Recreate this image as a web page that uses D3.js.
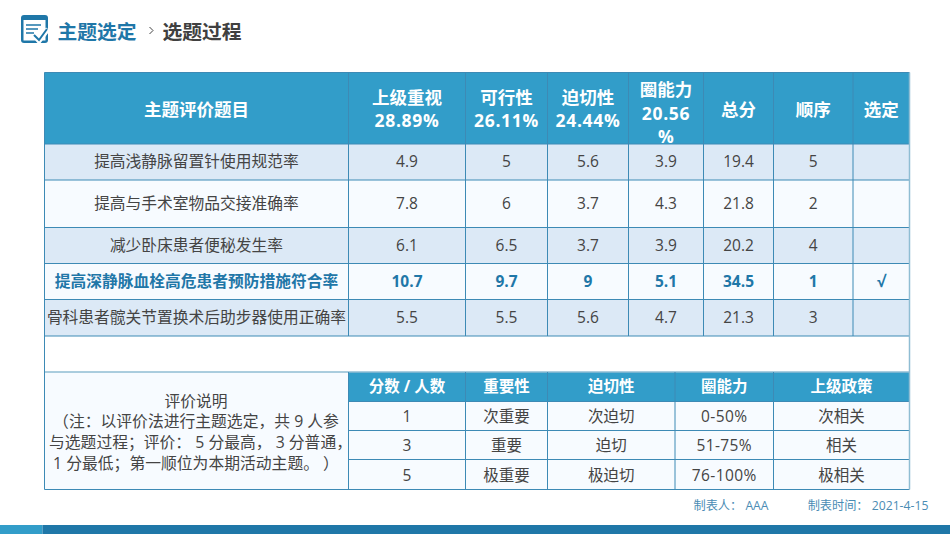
<!DOCTYPE html>
<html>
<head>
<meta charset="utf-8">
<script src="https://cdn.jsdelivr.net/npm/d3@7"></script>
<style>
html, body { margin: 0; padding: 0; background: #fff; overflow: hidden; }
text { font-family: "Open Sans", "Noto Sans CJK SC", sans-serif; }
</style>
</head>
<body>
<div id="chart"></div>
<script>
// Table contents
const headerLabels = [['主题评价题目'], ['上级重视', '28.89%'], ['可行性', '26.11%'], ['迫切性', '24.44%'], ['圈能力', '20.56', '%'], ['总分'], ['顺序'], ['选定']];
const topics = ['提高浅静脉留置针使用规范率', '提高与手术室物品交接准确率', '减少卧床患者便秘发生率', '提高深静脉血栓高危患者预防措施符合率', '骨科患者髋关节置换术后助步器使用正确率'];
const leaderScores = ['4.9', '7.8', '6.1', '10.7', '5.5'];
const feasibilityScores = ['5', '6', '6.5', '9.7', '5.5'];
const urgencyScores = ['5.6', '3.7', '3.7', '9', '5.6'];
const abilityScores = ['3.9', '4.3', '3.9', '5.1', '4.7'];
const totalScores = ['19.4', '21.8', '20.2', '34.5', '21.3'];
const ranks = ['5', '2', '4', '1', '3'];
const chosen = ['', '', '', '√', ''];
const noteLines = ['评价说明', '（注：以评价法进行主题选定，共 9 人参', '与选题过程；评价： 5 分最高， 3 分普通，', '1 分最低；第一顺位为本期活动主题。 ）'];
const legendHeader = ['分数 / 人数', '重要性', '迫切性', '圈能力', '上级政策'];
const legendScores = ['1', '3', '5'];
const legendImportance = ['次重要', '重要', '极重要'];
const legendUrgency = ['次迫切', '迫切', '极迫切'];
const legendAbility = ['0-50%', '51-75%', '76-100%'];
const legendPolicy = ['次相关', '相关', '极相关'];

const width = 950;
const height = 535;
const blue = '#329dc9';
const dark = '#1f77a8';
const line = '#3d8ab5';
const band = '#dce9f6';
const pale = '#f7fbff';
const ink = '#444444';

// Column and row edges of the two tables
const colEdges = [44.5, 348.5, 465.5, 547.5, 628.5, 703.5, 773.5, 853, 909.5];
const rowEdges = [144, 180, 227.5, 263.5, 299.5, 336];
const lowColEdges = [348.5, 465.5, 547.5, 675, 773.5, 909.5];
const lowRowEdges = [401.5, 430.5, 459.5, 489.5];
const tableTop = 72.5;
const lowTop = 372;

const svg = d3.select('#chart').append('svg')
    .attr('width', width)
    .attr('height', height)
    .style('display', 'block');

function label(g, x, y, str, size, color, weight) {
    return g.append('text')
        .attr('x', x)
        .attr('y', y)
        .attr('text-anchor', 'middle')
        .attr('dominant-baseline', 'central')
        .attr('font-size', size)
        .attr('font-weight', weight || 400)
        .attr('fill', color)
        .text(str);
}

// Page heading with the icon
const icon = svg.append('g').attr('transform', 'translate(21,15)');
icon.append('rect').attr('width', 27).attr('height', 28).attr('rx', 3).attr('fill', dark);
icon.append('rect').attr('x', 2.5).attr('y', 5).attr('width', 22).attr('height', 20.5).attr('fill', '#fff');
icon.append('path').attr('d', 'M5 10H20M5 14H17M5 18H13').attr('stroke', dark).attr('stroke-width', 1.6).attr('fill', 'none');
icon.append('path').attr('d', 'M13 20L18 26L27 14').attr('stroke', '#fff').attr('stroke-width', 5).attr('fill', 'none');
icon.append('path').attr('d', 'M13 20L18 25L26 14').attr('stroke', dark).attr('stroke-width', 2).attr('fill', 'none');
label(svg, 97, 31, '主题选定', 19.8, dark, 700);
svg.append('path').attr('d', 'M149.5 27L153 30.5L149.5 34').attr('stroke', '#444').attr('fill', 'none');
label(svg, 202, 31, '选题过程', 19.8, '#404040', 700);

// Upper table header
svg.append('rect').attr('x', colEdges[0]).attr('y', tableTop)
    .attr('width', colEdges[8] - colEdges[0]).attr('height', rowEdges[0] - tableTop)
    .attr('fill', blue);
const columns = [topics, leaderScores, feasibilityScores, urgencyScores, abilityScores, totalScores, ranks, chosen];
const headG = svg.append('g');
headerLabels.forEach((lines, c) => {
    const cx = (colEdges[c] + colEdges[c + 1]) / 2;
    const lineGap = 23.5;
    const midY = lines.length > 2 ? 112.5 : 108.5;
    lines.forEach((str, i) => {
        label(headG, cx, midY + (i - (lines.length - 1) / 2) * lineGap, str, 17.5, '#fff', 700)
            .attr('letter-spacing', /\d/.test(str) ? 0.7 : 0);
    });
});

// Upper table rows
const rowsG = svg.append('g');
rowsG.selectAll('rect')
    .data(topics)
    .enter()
    .append('rect')
    .attr('x', colEdges[0])
    .attr('y', (d, i) => rowEdges[i])
    .attr('width', colEdges[8] - colEdges[0])
    .attr('height', (d, i) => rowEdges[i + 1] - rowEdges[i])
    .attr('fill', (d, i) => i % 2 === 0 ? band : pale);

columns.forEach((col, c) => {
    const cx = (colEdges[c] + colEdges[c + 1]) / 2;
    col.forEach((str, r) => {
        const strong = r === 3;
        label(rowsG, cx, (rowEdges[r] + rowEdges[r + 1]) / 2 - 0.7, str,
            c === 0 ? 15.75 : 15.5, strong ? dark : ink, strong ? 700 : 400);
    });
});

// Lower table
svg.append('rect').attr('x', colEdges[0]).attr('y', lowTop)
    .attr('width', colEdges[8] - colEdges[0]).attr('height', lowRowEdges[3] - lowTop)
    .attr('fill', pale);
svg.append('rect').attr('x', lowColEdges[0]).attr('y', lowTop)
    .attr('width', colEdges[8] - lowColEdges[0]).attr('height', lowRowEdges[0] - lowTop)
    .attr('fill', blue);

const lowColumns = [legendScores, legendImportance, legendUrgency, legendAbility, legendPolicy];
const lowG = svg.append('g');
legendHeader.forEach((str, c) => {
    const cx = (lowColEdges[c] + lowColEdges[c + 1]) / 2;
    label(lowG, cx, (lowTop + lowRowEdges[0]) / 2 - 0.5, str, 15.5, '#fff', 700);
    lowColumns[c].forEach((val, r) => {
        label(lowG, cx, (lowRowEdges[r] + lowRowEdges[r + 1]) / 2, val, 15.5, ink)
            .attr('letter-spacing', /\d-/.test(val) ? 0.4 : 0);
    });
});
noteLines.forEach((str, i) => {
    label(lowG, i === 2 ? 200.5 : 196, 400.5 + i * 20.7, str, 15.8, ink);
});

// Grid lines
const grid = svg.append('g').attr('stroke', line).attr('stroke-width', 1).attr('fill', 'none');
const hLines = [tableTop, ...rowEdges, lowRowEdges[3]];
grid.selectAll('line.h')
    .data(hLines)
    .enter()
    .append('line')
    .attr('x1', colEdges[0]).attr('x2', colEdges[8])
    .attr('y1', d => d).attr('y2', d => d);
grid.append('line').attr('x1', colEdges[0]).attr('x2', colEdges[8]).attr('y1', lowTop).attr('y2', lowTop).attr('stroke', '#8fbdd3').attr('stroke-width', 1.5);
grid.selectAll('line.v')
    .data(colEdges.slice(1, 8))
    .enter()
    .append('line')
    .attr('x1', d => d).attr('x2', d => d)
    .attr('y1', tableTop).attr('y2', rowEdges[5]);
grid.selectAll('line.lv')
    .data(lowColEdges.slice(0, 5))
    .enter()
    .append('line')
    .attr('x1', d => d).attr('x2', d => d)
    .attr('y1', lowTop).attr('y2', lowRowEdges[3]);
grid.selectAll('line.lh')
    .data(lowRowEdges.slice(0, 3))
    .enter()
    .append('line')
    .attr('x1', lowColEdges[0]).attr('x2', lowColEdges[5])
    .attr('y1', d => d).attr('y2', d => d);
grid.append('line').attr('x1', colEdges[0]).attr('x2', colEdges[0]).attr('y1', tableTop).attr('y2', lowRowEdges[3]);
grid.append('line').attr('x1', colEdges[8]).attr('x2', colEdges[8]).attr('y1', tableTop).attr('y2', lowRowEdges[3]).attr('stroke', '#8fbdd3').attr('stroke-width', 1.5);

// Footer
label(svg, 731, 505, '制表人： AAA', 12.2, '#4a8cb4');
label(svg, 868, 505, '制表时间： 2021-4-15', 12.2, '#4a8cb4');
svg.append('rect').attr('x', 0).attr('y', 525).attr('width', 42.5).attr('height', 9).attr('fill', blue);
svg.append('rect').attr('x', 42.5).attr('y', 525).attr('width', width - 42.5).attr('height', 9).attr('fill', dark);
</script>
</body>
</html>
